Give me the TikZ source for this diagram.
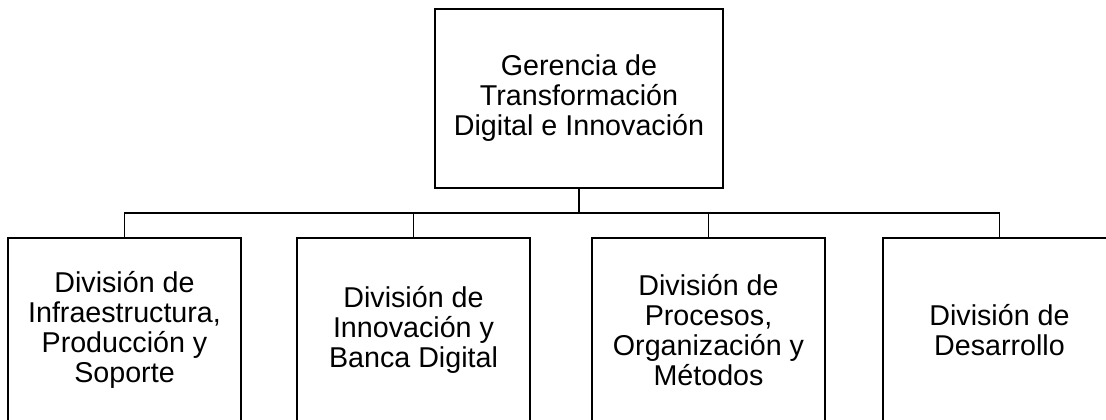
\documentclass[tikz,border=0pt]{standalone}
\usepackage{fontspec}
\setmainfont{Liberation Sans}
\usetikzlibrary{positioning}

\begin{document}
\begin{tikzpicture}[x=0.75pt,y=0.75pt,line width=1.4pt,
      font=\fontsize{21.5}{22.5}\selectfont,
      unit/.style={draw=black,fill=white,align=center,inner sep=0pt},
      head/.style={unit,minimum width=216pt,minimum height=134pt},
      div/.style={unit,minimum width=175pt,minimum height=138pt}]
    \useasboundingbox (0,0) rectangle (1106,420);
    \clip (0,0) rectangle (1106,420);
    \node[head] (G) at (579,321.5) {Gerencia de\\Transformación\\Digital e Innovación};
    \node[div] (D1) at (124.5,90) {División de\\Infraestructura,\\Producción y\\Soporte};
    \node[div] (D2) at (413.5,90) {División de\\Innovación y\\Banca Digital};
    \node[div] (D3) at (708.5,90) {División de\\Procesos,\\Organización y\\Métodos};
    \node[div] (D4) at (999.5,90) {División de\\Desarrollo};
    \coordinate (bus) at (579,207);
    \draw (G.south) -- (bus);
    \draw (bus) -| (D1.north);
    \draw (bus) -| (D2.north);
    \draw (bus) -| (D3.north);
    \draw (bus) -| (D4.north);
  \end{tikzpicture}
\end{document}
